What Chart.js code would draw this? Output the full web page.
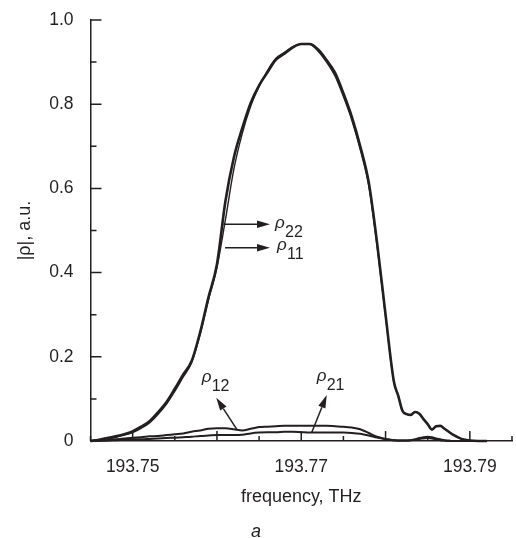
<!DOCTYPE html>
<html>
<head>
<meta charset="utf-8">
<script src="https://cdn.jsdelivr.net/npm/chart.js@4.4.1/dist/chart.umd.min.js"></script>
<style>
  html, body { margin: 0; padding: 0; background: #fff; }
  #wrap { width: 516px; height: 538px; }
</style>
</head>
<body>
<div id="wrap"><canvas id="myChart" width="516" height="538"></canvas></div>
<script>
// frequency grid, THz (denser where the big curve wiggles)
const freq = [
  193.745, 193.746, 193.747, 193.748, 193.749, 193.750, 193.751, 193.752, 193.753, 193.754,
  193.755, 193.756, 193.757, 193.758, 193.759, 193.760, 193.761, 193.762, 193.763, 193.764,
  193.765, 193.766, 193.767, 193.768, 193.769, 193.770, 193.771, 193.772, 193.773, 193.774,
  193.775, 193.776, 193.777, 193.778, 193.779, 193.780, 193.781,
  193.7815, 193.782, 193.7825, 193.783, 193.7835, 193.784, 193.7845, 193.785, 193.7855,
  193.786, 193.7865, 193.787, 193.7875, 193.788,
  193.789, 193.790, 193.791, 193.792
];

const rho22 = [
  0.000, 0.003, 0.007, 0.011, 0.016, 0.023, 0.034, 0.047, 0.068, 0.092,
  0.124, 0.158, 0.190, 0.258, 0.342, 0.420, 0.569, 0.673, 0.743, 0.803,
  0.845, 0.876, 0.906, 0.920, 0.935, 0.943, 0.943, 0.930, 0.905, 0.875,
  0.826, 0.770, 0.700, 0.615, 0.470, 0.300, 0.140,
  0.108, 0.072, 0.064, 0.062, 0.069, 0.065, 0.052, 0.040, 0.027,
  0.035, 0.036, 0.029, 0.022, 0.015,
  0.005, 0.001, 0.000, 0.000
];

const rho11 = [
  0.000, 0.002, 0.005, 0.009, 0.014, 0.020, 0.030, 0.043, 0.063, 0.087,
  0.118, 0.152, 0.186, 0.252, 0.335, 0.412, 0.525, 0.645, 0.730, 0.795,
  0.842, 0.880, 0.909, 0.923, 0.937, 0.943, 0.942, 0.926, 0.900, 0.867,
  0.818, 0.762, 0.692, 0.607, 0.462, 0.296, 0.138,
  0.108, 0.072, 0.064, 0.062, 0.069, 0.065, 0.052, 0.040, 0.027,
  0.035, 0.036, 0.029, 0.022, 0.015,
  0.005, 0.001, 0.000, 0.000
];

const rho12 = [
  0.000, 0.001, 0.002, 0.004, 0.006, 0.008, 0.009, 0.011, 0.012, 0.014,
  0.016, 0.018, 0.022, 0.025, 0.029, 0.030, 0.030, 0.028, 0.025, 0.029,
  0.033, 0.034, 0.035, 0.036, 0.036, 0.036, 0.036, 0.036, 0.036, 0.035,
  0.034, 0.032, 0.028, 0.019, 0.010, 0.005, 0.002,
  0.001, 0.001, 0.001, 0.002, 0.004, 0.007, 0.009, 0.010, 0.009,
  0.006, 0.004, 0.002, 0.001, 0.000,
  0.000, 0.000, 0.000, 0.000
];

const rho21 = [
  0.000, 0.001, 0.001, 0.002, 0.003, 0.004, 0.004, 0.005, 0.006, 0.007,
  0.008, 0.009, 0.010, 0.012, 0.013, 0.014, 0.014, 0.014, 0.015, 0.018,
  0.020, 0.021, 0.021, 0.022, 0.022, 0.021, 0.020, 0.020, 0.020, 0.020,
  0.020, 0.019, 0.017, 0.013, 0.008, 0.004, 0.002,
  0.001, 0.001, 0.001, 0.002, 0.003, 0.005, 0.006, 0.007, 0.006,
  0.004, 0.002, 0.001, 0.000, 0.000,
  0.000, 0.000, 0.000, 0.000
];

// arrows (data units): start on curve -> tip
const arrowFrom = [[193.76075, 0.515], [193.76096, 0.459], [193.76234, 0.028], [193.77124, 0.020]];
const arrowTo   = [[193.76629, 0.515], [193.76629, 0.459], [193.75992, 0.103], [193.77302, 0.109]];
// curve labels: rho + subscript
const labelSubs = ['22', '11', '12', '21'];
const labelAt   = [[193.76689, 0.506], [193.76712, 0.454], [193.75819, 0.140], [193.77183, 0.1425]];

const ink = '#231f20';
const fam = '"Liberation Sans", Arial, Helvetica, sans-serif';

function pts(vals) {
  return vals.map((v, i) => ({ x: freq[i], y: v }));
}

const decorations = {
  id: 'decorations',
  afterDraw(chart) {
    const ctx = chart.ctx;
    const xs = chart.scales.x, ys = chart.scales.y;
    const area = chart.chartArea;
    ctx.save();
    ctx.strokeStyle = ink;
    ctx.fillStyle = ink;
    ctx.lineWidth = 1.5;
    // inward tick marks
    ctx.beginPath();
    xs.ticks.forEach((t, i) => {
      const px = xs.getPixelForValue(t.value);
      const len = i % 2 ? 10 : 5;
      ctx.moveTo(px, area.bottom);
      ctx.lineTo(px, area.bottom - len);
    });
    ys.ticks.forEach((t, i) => {
      const py = ys.getPixelForValue(t.value);
      const len = i % 2 ? 6 : 11;
      ctx.moveTo(area.left, py);
      ctx.lineTo(area.left + len, py);
    });
    ctx.stroke();

    // arrows
    arrowFrom.forEach((a, i) => {
      const x0 = xs.getPixelForValue(a[0]), y0 = ys.getPixelForValue(a[1]);
      const x1 = xs.getPixelForValue(arrowTo[i][0]), y1 = ys.getPixelForValue(arrowTo[i][1]);
      const ang = Math.atan2(y1 - y0, x1 - x0);
      const hl = 13, hw = 3.8;
      const bx = x1 - hl * Math.cos(ang), by = y1 - hl * Math.sin(ang);
      ctx.beginPath();
      ctx.moveTo(x0, y0);
      ctx.lineTo(bx, by);
      ctx.stroke();
      ctx.beginPath();
      ctx.moveTo(x1, y1);
      ctx.lineTo(bx + hw * Math.sin(ang), by - hw * Math.cos(ang));
      ctx.lineTo(bx - hw * Math.sin(ang), by + hw * Math.cos(ang));
      ctx.closePath();
      ctx.fill();
    });

    // labels
    ctx.textAlign = 'left';
    ctx.textBaseline = 'alphabetic';
    labelAt.forEach((p, i) => {
      const px = xs.getPixelForValue(p[0]), py = ys.getPixelForValue(p[1]);
      ctx.font = 'italic 17px ' + fam;
      ctx.fillText('ρ', px, py);
      ctx.font = '16px ' + fam;
      ctx.fillText(labelSubs[i], px + 10, py + 9);
    });
    ctx.restore();
  }
};

const ctx = document.getElementById('myChart').getContext('2d');
const myChart = new Chart(ctx, {
  type: 'line',
  data: {
    datasets: [
      { label: 'ρ22', data: pts(rho22), borderColor: ink, borderWidth: 2.6 },
      { label: 'ρ11', data: pts(rho11), borderColor: ink, borderWidth: 1.4 },
      { label: 'ρ12', data: pts(rho12), borderColor: ink, borderWidth: 2 },
      { label: 'ρ21', data: pts(rho21), borderColor: ink, borderWidth: 2 }
    ]
  },
  options: {
    responsive: false,
    animation: false,
    devicePixelRatio: 1,
    clip: false,
    elements: {
      point: { radius: 0 },
      line: { cubicInterpolationMode: 'monotone', fill: false }
    },
    layout: { padding: { top: 20, right: 4, left: 0, bottom: 0 } },
    plugins: {
      legend: { display: false },
      tooltip: { enabled: false },
      title: {
        display: true,
        text: 'a',
        position: 'bottom',
        color: ink,
        font: { family: fam, size: 18, style: 'italic', weight: 'normal' },
        padding: { top: 0, bottom: -5 }
      }
    },
    scales: {
      x: {
        type: 'linear',
        min: 193.745,
        max: 193.795,
        afterFit(scale) {
          scale.height = 80.4;
          scale.paddingLeft = 0;
          scale.paddingRight = 0;
        },
        grid: { display: false, drawTicks: false },
        border: { display: true, color: ink, width: 1.5 },
        ticks: {
          stepSize: 0.005,
          autoSkip: false,
          maxRotation: 0,
          padding: 16,
          color: ink,
          font: { family: fam, size: 17.5 },
          callback: function(value) {
            const k = Math.round((value - 193.745) / 0.005);
            return k % 4 === 1 ? value.toFixed(2) : '';
          }
        },
        title: {
          display: true,
          text: 'frequency, THz',
          color: ink,
          font: { family: fam, size: 18 },
          padding: { top: 0, bottom: 14 }
        }
      },
      y: {
        type: 'linear',
        min: 0,
        max: 1,
        afterFit(scale) {
          scale.width = 90.5;
          scale.paddingTop = 0;
          scale.paddingBottom = 0;
        },
        grid: { display: false, drawTicks: false },
        border: { display: true, color: ink, width: 1.5 },
        ticks: {
          stepSize: 0.1,
          autoSkip: false,
          padding: 17,
          color: ink,
          font: { family: fam, size: 17.5 },
          callback: function(value) {
            const k = Math.round(value * 10);
            if (k % 2) return '';
            return k === 0 ? '0' : value.toFixed(1);
          }
        },
        title: {
          display: true,
          text: '|ρ|, a.u.',
          color: ink,
          font: { family: fam, size: 18 },
          padding: { top: 14, bottom: 0 }
        }
      }
    }
  },
  plugins: [decorations]
});
</script>
</body>
</html>
